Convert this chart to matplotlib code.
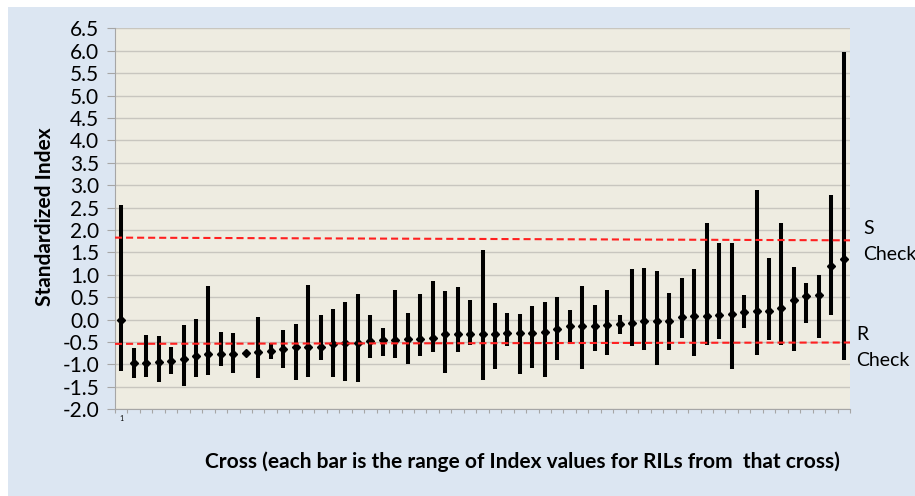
import numpy as np
import matplotlib.pyplot as plt
from matplotlib.patches import Rectangle

plt.rcParams['font.family'] = ['Lato', 'DejaVu Sans']

# index values per cross: midpoint, upper and lower end of the range
mid = [0.00, -0.97, -0.97, -0.95, -0.92, -0.88, -0.81, -0.77, -0.77, -0.76,
       -0.74, -0.72, -0.71, -0.65, -0.60, -0.60, -0.60, -0.55, -0.53, -0.51,
       -0.47, -0.46, -0.45, -0.43, -0.43, -0.42, -0.33, -0.33, -0.33, -0.33,
       -0.33, -0.30, -0.30, -0.30, -0.28, -0.21, -0.15, -0.15, -0.15, -0.12,
       -0.10, -0.07, -0.04, -0.04, -0.03, 0.05, 0.08, 0.08, 0.10, 0.12,
       0.16, 0.19, 0.19, 0.25, 0.44, 0.53, 0.56, 1.20, 1.36]
high = [2.55, -0.63, -0.34, -0.36, -0.62, -0.12, 0.02, 0.74, -0.27, -0.30,
        -0.74, 0.06, -0.53, -0.23, -0.10, 0.78, 0.11, 0.23, 0.40, 0.57,
        0.10, -0.18, 0.67, 0.15, 0.57, 0.86, 0.65, 0.72, 0.43, 1.56,
        0.37, 0.14, 0.13, 0.31, 0.39, 0.51, 0.21, 0.76, 0.33, 0.67,
        0.10, 1.14, 1.15, 1.08, 0.60, 0.92, 1.12, 2.16, 1.71, 1.70,
        0.56, 2.90, 1.38, 2.16, 1.18, 0.82, 1.00, 2.78, 5.98]
low = [-1.15, -1.31, -1.28, -1.38, -1.21, -1.49, -1.29, -1.23, -1.03, -1.19,
       -0.74, -1.30, -0.88, -1.07, -1.35, -1.29, -0.91, -1.29, -1.36, -1.40,
       -0.85, -0.82, -0.85, -1.00, -0.82, -0.72, -1.20, -0.72, -0.57, -1.35,
       -1.09, -0.59, -1.22, -1.08, -1.28, -0.91, -0.53, -1.11, -0.71, -0.78,
       -0.33, -0.58, -0.67, -1.02, -0.67, -0.42, -0.81, -0.57, -0.44, -1.11,
       -0.19, -0.78, -0.46, -0.57, -0.69, -0.07, -0.41, 0.11, -0.91]

# check lines (value at left edge, value at right edge)
s_check = [1.83, 1.77]
r_check = [-0.54, -0.51]

n = len(mid)
x = np.arange(1, n + 1)

fig = plt.figure(figsize=(9.15, 4.96), dpi=100, facecolor='white')
fig.patches.append(Rectangle((8 / 915, 0), 1, 489 / 496, transform=fig.transFigure,
                             facecolor='#DCE6F2', edgecolor='none', zorder=-1))

ax = fig.add_axes([115 / 915, 1 - 409.3 / 496, 735 / 915, 381 / 496])
ax.set_facecolor('#EEECE1')

ax.vlines(x, low, high, color='black', linewidth=2.9, zorder=3)
ax.plot(x, mid, linestyle='none', marker='D', markersize=4.3, color='black', zorder=4)

xs = [0.5, n + 0.5]
ax.plot(xs, s_check, color='#FF2020', linewidth=1.5, dashes=(3.4, 1.9), zorder=5)
ax.plot(xs, r_check, color='#FF2020', linewidth=1.5, dashes=(3.4, 1.9), zorder=5)

ax.set_xlim(0.5, n + 0.5)
ax.set_ylim(-2.0, 6.5)
ax.set_yticks(np.arange(-2.0, 6.51, 0.5))
ax.set_yticklabels([f'{v:.1f}' for v in np.arange(-2.0, 6.51, 0.5)], fontsize=15)
ax.yaxis.grid(True, color='#C8C6BF', linewidth=1)
ax.set_axisbelow(True)

ax.set_xticks(np.arange(0.5, n + 1, 1))
ax.set_xticklabels([])
ax.set_xticks([1], minor=True)
ax.set_xticklabels(['1'], minor=True, fontsize=5)
ax.tick_params(axis='x', which='major', length=3, color='#A6A6A6')
ax.tick_params(axis='x', which='minor', length=0, pad=4)
ax.tick_params(axis='y', length=5.5, color='#A6A6A6', pad=6)

for side in ['top', 'right']:
    ax.spines[side].set_visible(False)
for side in ['left', 'bottom']:
    ax.spines[side].set_color('#A6A6A6')

fig.text(45 / 915, 1 - 217 / 496, 'Standardized Index', rotation=90, fontsize=15,
         fontweight='bold', ha='center', va='center')
fig.text(522 / 915, 1 - 462 / 496,
         'Cross (each bar is the range of Index values for RILs from  that cross)',
         fontsize=15, fontweight='bold', ha='center', va='center')

fig.text(863 / 915, 1 - 229 / 496, 'S', fontsize=14, va='center')
fig.text(863 / 915, 1 - 254 / 496, 'Check', fontsize=14, va='center')
fig.text(856 / 915, 1 - 335 / 496, 'R', fontsize=14, va='center')
fig.text(856 / 915, 1 - 360 / 496, 'Check', fontsize=14, va='center')

fig.savefig('out.png', dpi=100)
